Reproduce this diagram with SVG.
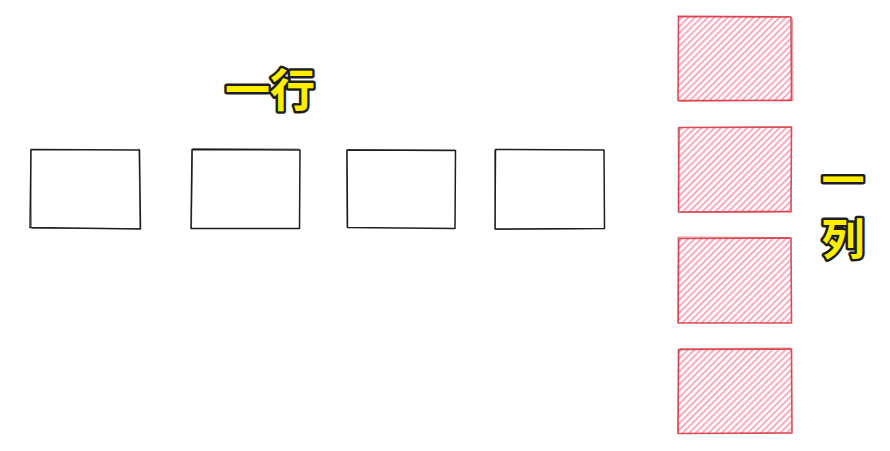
<svg xmlns="http://www.w3.org/2000/svg" width="890" height="451" viewBox="0 0 890 451">
<defs>
<pattern id="hatch" patternUnits="userSpaceOnUse" width="4.6" height="4.6" patternTransform="rotate(-45)">
<line x1="0" y1="2.3" x2="4.6" y2="2.3" stroke="#f19db3" stroke-width="1.7"/>
</pattern>
</defs>
<style>
.box{fill:#ffffff;stroke:#1e1e1e;stroke-width:1.5;stroke-linejoin:round;stroke-linecap:round}
.box2{fill:none;stroke:#1e1e1e;stroke-width:0.9;stroke-opacity:0.6;stroke-linecap:round}
.pbox{fill:url(#hatch);stroke:#d63b45;stroke-width:1.6;stroke-linejoin:round;stroke-linecap:round;stroke-opacity:0.9}
.pbox2{fill:none;stroke:#d63b45;stroke-width:1;stroke-opacity:0.55;stroke-linecap:round}
.lbl{font-family:"Noto Sans CJK SC","Noto Sans",sans-serif;font-weight:700;fill:#ffee00;stroke:#1e1e1e;stroke-width:5;paint-order:stroke;stroke-linejoin:round}
</style>
<rect width="890" height="451" fill="#ffffff"/>
<g id="row-label"><text class="lbl" x="270" y="107" font-size="45" text-anchor="middle">一行</text></g>
<g id="col-label">
<text class="lbl" x="843" y="196" font-size="43" text-anchor="middle">一</text>
<text class="lbl" x="843" y="255" font-size="43" text-anchor="middle">列</text>
</g>
<g id="r1"><path class="box" d="M31 149.5 L139.5 150 L140.5 229 L30 227.5 Z"/><path class="box2" d="M30.5 150.5 L31.5 227 M32 228.5 L140 228.5 M139 149 L140 228"/></g>
<g id="r2"><path class="box" d="M192 149.5 L300 150 L299.5 228.5 L191 228.5 Z"/><path class="box2" d="M193 148.5 L299 149 M192.5 150 L191.5 228"/></g>
<g id="r3"><path class="box" d="M347 150 L455.5 150.5 L455 228.5 L347.5 227.5 Z"/><path class="box2" d="M346.5 151 L347 227 M348 149.5 L455 150"/></g>
<g id="r4"><path class="box" d="M495.5 149.5 L604 150 L604.5 228.5 L495 229 Z"/><path class="box2" d="M494.5 150.5 L495.5 228 M496 229.5 L604 228.5"/></g>
<g id="c1"><path class="pbox" d="M678.5 16.5 L791 17 L791.5 100.5 L678 100.5 Z"/><path class="pbox2" d="M677.5 16 L790 16.5 M792.5 19 L793 101 M679 101.5 L791 100"/></g>
<g id="c2"><path class="pbox" d="M679 127.5 L791.5 127 L791 211.5 L678.5 212 Z"/><path class="pbox2" d="M678 128 L678.5 211 M680 212.5 L792 212"/></g>
<g id="c3"><path class="pbox" d="M678.5 238.5 L791 238 L791.5 323 L678 323 Z"/><path class="pbox2" d="M677.5 237 L790 237.5 M679 239 L678.5 322"/></g>
<g id="c4"><path class="pbox" d="M678.5 349.5 L791.5 349 L792 433 L678 433.5 Z"/><path class="pbox2" d="M680 348.5 L791 348 M679 350 L678 432"/></g>
</svg>
